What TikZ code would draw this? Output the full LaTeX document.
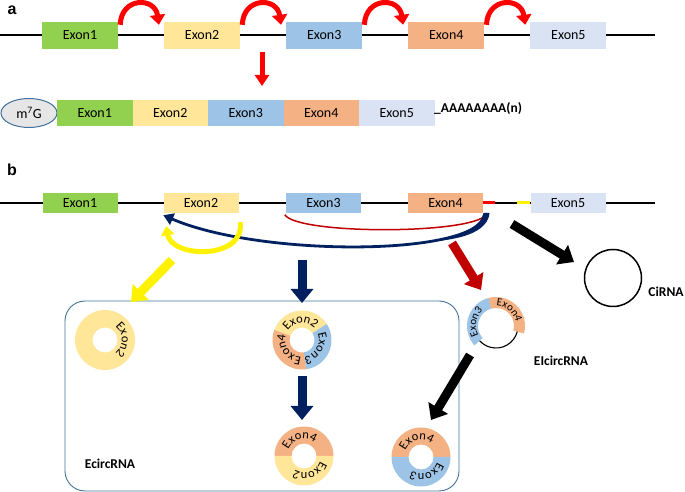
\documentclass[tikz,border=0pt]{standalone}
\usepackage{fontspec}
\setmainfont{Carlito}
\newfontfamily\headfont{Liberation Sans}
\usetikzlibrary{arrows.meta, decorations.text, calc, shapes.geometric}
\definecolor{cg}{HTML}{92D050}
\definecolor{cy}{HTML}{FFE699}
\definecolor{cb}{HTML}{9DC3E6}
\definecolor{co}{HTML}{F4B183}
\definecolor{cl}{HTML}{DAE3F3}
\definecolor{navy}{HTML}{002060}
\definecolor{dred}{HTML}{C00000}
\definecolor{frame}{HTML}{41719C}
\definecolor{capfill}{HTML}{E7E6E6}
\newcommand\exfont{\fontsize{14}{16}\selectfont}
\newcommand\lblfont{\fontsize{13.5}{15}\selectfont\bfseries}
\newcommand\rfont{\fontsize{12.5}{14}\selectfont}
\newcommand\rsfont{\fontsize{11}{13}\selectfont}
% #1 centre, #2 colour, #3 a1, #4 a2, #5 r in, #6 r out
\newcommand\ringseg[6]{\fill[#2] ($(#1)+(#3:#6)$) arc[start angle=#3,end angle=#4,radius=#6] -- ($(#1)+(#4:#5)$) arc[start angle=#4,end angle=#3,radius=#5] -- cycle;}
% #1 centre, #2 a1, #3 a2, #4 r, #5 font, #6 text
\newcommand\ringtext[6]{\path[decorate,decoration={text along path,text align=center,text={|#5|#6}}] ($(#1)+(#2:#4)$) arc[start angle=#2,end angle=#3,radius=#4];}
\begin{document}
\begin{tikzpicture}[x=1pt,y=1pt,
  exa/.style={minimum width=76pt, minimum height=27pt, inner sep=0pt, font=\exfont},
  exb/.style={minimum width=75pt, minimum height=20pt, inner sep=0pt, font=\exfont},
  exm/.style={minimum width=75.5pt, minimum height=26pt, inner sep=0pt, font=\exfont},
  curv/.style={red, line width=5pt, -{Triangle[width=15pt,length=10pt]}},
  big/.style={line width=9pt, -{Triangle[width=22pt,length=14pt]}},
  lbl/.style={font=\lblfont, inner sep=0pt},
  backbone/.style={line width=1.3pt},
]
\useasboundingbox (0,0) rectangle (685,492);
% ---------------- panel a ----------------
\node[font=\headfont\bfseries\fontsize{16}{18}\selectfont, inner sep=0pt] (la) at (12,482) {a};
\coordinate (lineA0) at (0,457);
\coordinate (lineA1) at (655,457);
\draw[backbone] (lineA0) -- (lineA1);
\node[exa, fill=cg] (a1) at (80,456.5) {Exon1};
\node[exa, fill=cy] (a2) at (202.1,456.5) {Exon2};
\node[exa, fill=cb] (a3) at (324.2,456.5) {Exon3};
\node[exa, fill=co] (a4) at (446.3,456.5) {Exon4};
\node[exa, fill=cl] (a5) at (568.4,456.5) {Exon5};
\draw[curv] ($(a1.north east)+(2,-3)$) .. controls +(1,28) and +(-4,28) .. ($(a2.north west)+(-5,-3)$);
\draw[curv] ($(a2.north east)+(2,-3)$) .. controls +(1,28) and +(-4,28) .. ($(a3.north west)+(-5,-3)$);
\draw[curv] ($(a3.north east)+(2,-3)$) .. controls +(1,28) and +(-4,28) .. ($(a4.north west)+(-5,-3)$);
\draw[curv] ($(a4.north east)+(2,-3)$) .. controls +(1,28) and +(-4,28) .. ($(a5.north west)+(-5,-3)$);
\coordinate (ra1) at (262,440);
\coordinate (ra2) at (262,406);
\draw[red, line width=5pt, -{Triangle[width=14pt,length=11pt]}] (ra1) -- (ra2);
% mRNA
\node[ellipse, draw=frame, fill=capfill, line width=1pt, minimum width=56pt, minimum height=29pt, inner sep=0pt, font=\exfont] (cap) at (29,379) {m\textsuperscript{7}G};
\node[exm, fill=cg] (m1) at (94.75,379) {Exon1};
\node[exm, fill=cy] (m2) at (170.25,379) {Exon2};
\node[exm, fill=cb] (m3) at (245.75,379) {Exon3};
\node[exm, fill=co] (m4) at (321.25,379) {Exon4};
\node[exm, fill=cl] (m5) at (396.75,379) {Exon5};
\node[lbl, anchor=base west] (polyA) at (434,379) {\_AAAAAAAA(n)};
% ---------------- panel b ----------------
\node[font=\headfont\bfseries\fontsize{16}{18}\selectfont, inner sep=0pt] (lb) at (12,322) {b};
\coordinate (lineB0) at (0,289);
\coordinate (lineB1) at (655,289);
\draw[backbone] (lineB0) -- (lineB1);
\node[exb, fill=cg] (b1) at (80,288.5) {Exon1};
\node[exb, fill=cy] (b2) at (201,288.5) {Exon2};
\node[exb, fill=cb] (b3) at (323.5,288.5) {Exon3};
\node[exb, fill=co] (b4) at (445.5,288.5) {Exon4};
\node[exb, fill=cl] (b5) at (568,288.5) {Exon5};
\draw[red, line width=3pt] ($(b4.east)+(0,1)$) -- ++(12,0);
\draw[yellow, line width=3pt] ($(b5.west)+(0,1)$) -- ++(-13,0);
% splice arcs
\draw[dred, line width=1.5pt] ($(b3.south west)+(-1,-1)$) .. controls +(12,-20) and +(-15,-20) .. ($(b4.south east)+(3,-1)$);
\draw[navy, line width=2.8pt, -{Triangle[width=12pt,length=10pt]}] ($(b4.south east)+(4,0.5)$) .. controls +(-7,-44) and +(97,-42) .. ($(b2.south west)+(0,-1.5)$);
\fill[navy] (489.5,279) .. controls (488,262) and (466,253) .. (432.3,250.6) .. controls (462,258) and (481,265) .. (483.5,279) -- cycle;
\draw[yellow, line width=5pt, -{Triangle[width=13pt,length=9pt]}] ($(b2.south east)+(1.5,-8.5)$) .. controls +(5,-38) and +(5,-32) .. ($(b2.south west)+(3,-12.5)$);
% big arrows
\coordinate (ya1) at (172,232); \coordinate (ya2) at (131,190);
\coordinate (na1) at (302,232); \coordinate (na2) at (302,189);
\coordinate (da1) at (452,249); \coordinate (da2) at (481,202);
\coordinate (ka1) at (512,268); \coordinate (ka2) at (574,230);
\coordinate (nb1) at (302,116); \coordinate (nb2) at (302,72);
\coordinate (kb1) at (470,137); \coordinate (kb2) at (431,72);
% box
\draw[frame, line width=0.9pt, rounded corners=20pt] (65,1) rectangle (459,191);
\draw[big, yellow] (ya1) -- (ya2);
\draw[big, navy] (na1) -- (na2);
\draw[big, dred] (da1) -- (da2);
\draw[big, black] (ka1) -- (ka2);
\draw[big, navy] (nb1) -- (nb2);
% rings
\coordinate (R1) at (105,152);
\coordinate (R2) at (302,152);
\coordinate (R3) at (304,36);
\coordinate (R4) at (421,35);
\coordinate (R5) at (496,166);
\fill[cy, even odd rule] (R1) circle[radius=30] (R1) circle[radius=12.5];
\ringtext{R1}{60}{-60}{16.8}{\rfont}{Exon2}
\ringseg{R2}{cy}{160}{33}{12.5}{29.5}
\ringseg{R2}{cb}{33}{-82}{12.5}{29.5}
\ringseg{R2}{co}{278}{160}{12.5}{29.5}
\ringtext{R2}{155}{35}{16.8}{\rfont}{Exon2}
\ringtext{R2}{30}{-90}{16.8}{\rfont}{Exon3}
\ringtext{R2}{275}{155}{16.8}{\rfont}{Exon4}
\ringseg{R3}{co}{180}{0}{12.5}{29.5}
\ringseg{R3}{cy}{360}{180}{12.5}{29.5}
\ringtext{R3}{165}{45}{16.8}{\rfont}{Exon4}
\ringtext{R3}{-10}{-130}{16.8}{\rfont}{Exon2}
\ringseg{R4}{co}{180}{0}{12.5}{29.5}
\ringseg{R4}{cb}{360}{180}{12.5}{29.5}
\ringtext{R4}{165}{45}{16.8}{\rfont}{Exon4}
\ringtext{R4}{-10}{-130}{16.8}{\rfont}{Exon3}
\ringseg{R5}{cb}{222}{105}{18}{29}
\ringseg{R5}{co}{105}{-15}{18}{29}
\draw[line width=1.1pt] ($(R5)+(-15:22)$) arc[start angle=-15, end angle=-138, radius=22];
\ringtext{R5}{225}{115}{20}{\rsfont}{Exon3}
\ringtext{R5}{105}{-5}{20}{\rsfont}{Exon4}
\draw[big, black] (kb1) -- (kb2);
% CiRNA
\node[circle, draw, line width=1.5pt, minimum size=57pt, inner sep=0pt] (ci) at (613,214) {};
% labels
\node[lbl] (lE) at (110,28) {EcircRNA};
\node[lbl] (lEI) at (561,131) {EIcircRNA};
\node[lbl] (lCi) at (666,200) {CiRNA};
\end{tikzpicture}
\end{document}
